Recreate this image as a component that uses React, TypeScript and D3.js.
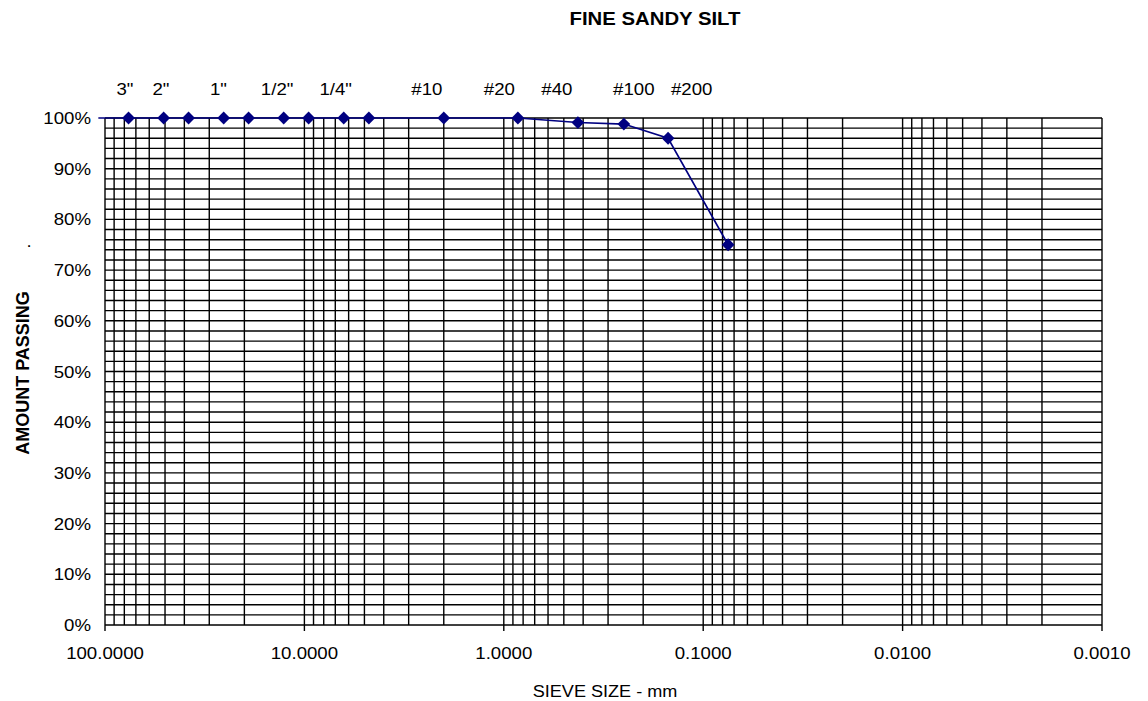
import React from "react";
import * as d3 from "d3";

// ---- data ----
const sieveSizesMm = [76.2, 50.8, 38.1, 25.4, 19.05, 12.7, 9.525, 6.35, 4.75, 2.0, 0.85, 0.425, 0.25, 0.15, 0.075];
const percentPassing = [100, 100, 100, 100, 100, 100, 100, 100, 100, 100, 100, 99.1, 98.8, 96.0, 75.0];
const leadSizeMm = 108; // line continues past the left edge
const sieveLabels = ['3"', '2"', '1"', '1/2"', '1/4"', "#10", "#20", "#40", "#100", "#200"];
const sieveLabelAtMm = [79.4, 52.4, 27.0, 13.7, 6.97, 2.43, 1.052, 0.542, 0.2228, 0.1143];
const xTickValues = [100, 10, 1, 0.1, 0.01, 0.001];
const yTickValues = [0, 10, 20, 30, 40, 50, 60, 70, 80, 90, 100];

const W = 1148;
const H = 701;
const M = { left: 105, right: 1102, top: 118, bottom: 625 };
const FONT = "'Liberation Sans', Arial, sans-serif";
const SX = 1.13;
const NAVY = "#000080";

export default function App() {
  const x = d3.scaleLog().domain([100, 0.001]).range([M.left, M.right]);
  const y = d3.scaleLinear().domain([0, 100]).range([M.bottom, M.top]);

  const vGrid: number[] = [];
  for (let e = -3; e < 2; e++) {
    for (let k = 1; k <= 9; k++) vGrid.push(k * Math.pow(10, e));
  }
  vGrid.push(100);
  const hGrid = d3.range(0, 101, 2);

  const pts: [number, number][] = sieveSizesMm.map((s, i) => [x(s), y(percentPassing[i])]);
  const linePts: [number, number][] = [[x(leadSizeMm), y(100)], ...pts];
  const line = d3.line();
  const diamond = d3.symbol(d3.symbolDiamond2, 105)();

  const stext = (
    key: string | number,
    tx: number,
    ty: number,
    s: string,
    size: number,
    anchor: string,
    weight = "normal"
  ) => (
    <text
      key={key}
      transform={`translate(${tx},${ty}) scale(${SX},1)`}
      fontSize={size}
      fontFamily={FONT}
      fontWeight={weight}
      textAnchor={anchor}
      fill="#000"
    >
      {s}
    </text>
  );

  const fmtX = (v: number) => v.toFixed(4);

  return (
    <svg width={W} height={H} style={{ position: "absolute", left: 0, top: 0, background: "#fff" }}>
      <rect x={0} y={0} width={W} height={H} fill="#fff" />
      {/* grid */}
      <g stroke="#000" strokeWidth={1.4}>
        {hGrid.map((p) => (
          <line key={"h" + p} x1={M.left} x2={M.right} y1={y(p)} y2={y(p)} />
        ))}
        {vGrid.map((v, i) => (
          <line key={"v" + i} x1={x(v)} x2={x(v)} y1={M.top} y2={M.bottom} />
        ))}
        {xTickValues.map((v) => (
          <line key={"t" + v} x1={x(v)} x2={x(v)} y1={M.bottom} y2={M.bottom + 6} />
        ))}
      </g>
      {/* data */}
      <path d={line(linePts) || ""} fill="none" stroke={NAVY} strokeWidth={1.6} />
      {pts.map((p, i) => (
        <path key={"m" + i} d={diamond || ""} transform={`translate(${p[0]},${p[1]})`} fill={NAVY} />
      ))}
      {/* y tick labels */}
      {yTickValues.map((v) => stext("y" + v, 91, y(v) + 6, `${v}%`, 16.5, "end"))}
      {/* x tick labels */}
      {xTickValues.map((v) => stext("x" + v, x(v), 659, fmtX(v), 16.5, "middle"))}
      {/* sieve labels */}
      {sieveLabels.map((l, i) => stext("s" + i, x(sieveLabelAtMm[i]), 95, l, 16.5, "middle"))}
      {/* titles */}
      {stext("title", 655, 25, "FINE SANDY SILT", 18, "middle", "bold")}
      {stext("xt", 605, 697, "SIEVE SIZE - mm", 16, "middle")}
      <text
        transform={`translate(29,373) rotate(-90)`}
        fontSize={18}
        fontFamily={FONT}
        fontWeight="bold"
        textAnchor="middle"
      >
        AMOUNT PASSING
      </text>
      {stext("dot", 29, 247, ".", 16.5, "middle")}
    </svg>
  );
}
